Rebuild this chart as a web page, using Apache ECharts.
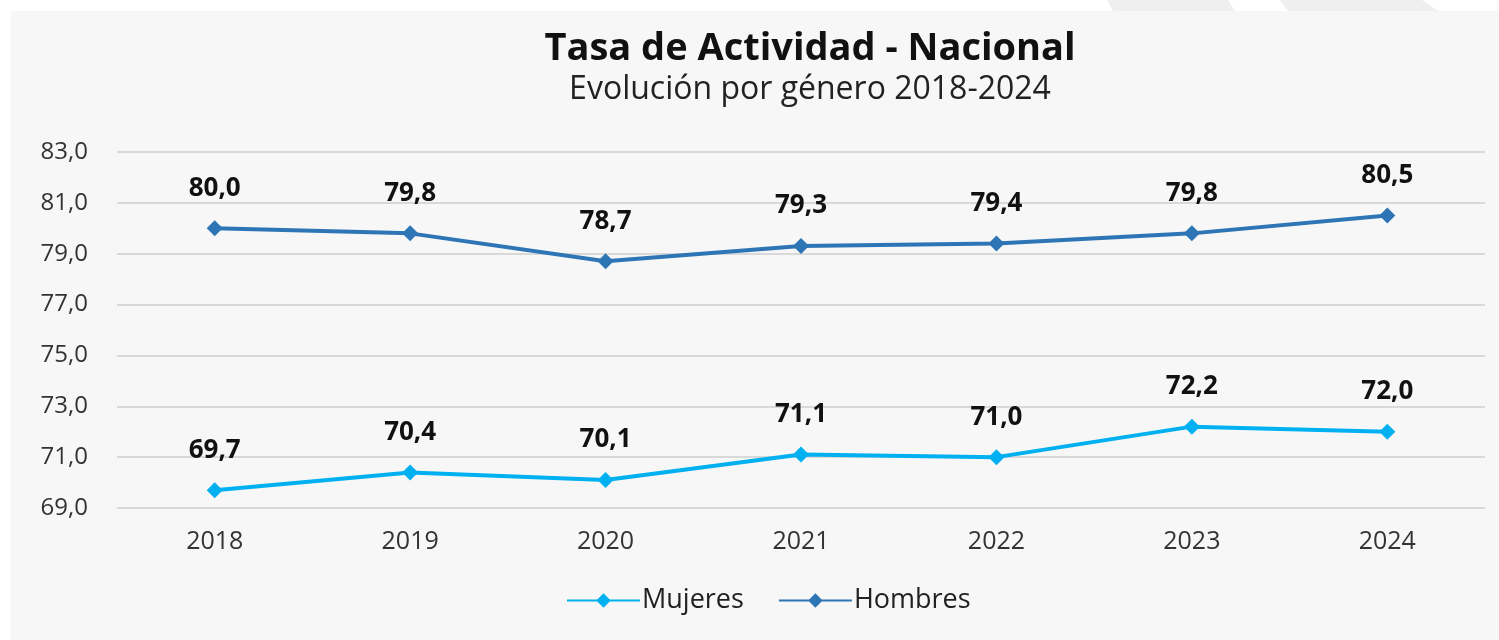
<!DOCTYPE html>
<html>
<head>
<meta charset="utf-8">
<title>Tasa de Actividad - Nacional</title>
<script src="https://cdn.jsdelivr.net/npm/echarts@6/dist/echarts.min.js"></script>
<style>
  html, body { margin: 0; padding: 0; background: #fff; }
  #chart { width: 1499px; height: 640px; }
</style>
</head>
<body>
<div id="chart"></div>
<script>
const years = ['2018', '2019', '2020', '2021', '2022', '2023', '2024']
const mujeres = [69.7, 70.4, 70.1, 71.1, 71.0, 72.2, 72.0]
const hombres = [80.0, 79.8, 78.7, 79.3, 79.4, 79.8, 80.5]

const font = "'Open Sans', 'Noto Sans', sans-serif"
const fmt = v => v.toFixed(1).replace('.', ',')

const chart = echarts.init(document.getElementById('chart'))

const labelStyle = {
  show: true,
  position: 'top',
  distance: 19,
  fontFamily: font,
  fontSize: 26,
  fontWeight: 'bold',
  color: '#111',
  formatter: p => fmt(p.value)
}

chart.setOption({
  backgroundColor: '#ffffff',
  animation: false,
  graphic: [
    // grey stripes above the panel
    { type: 'polygon', z: -20, shape: { points: [[1107, 0], [1228, 0], [1235, 11], [1113, 11]] }, style: { fill: '#efefef' } },
    { type: 'polygon', z: -20, shape: { points: [[1280, 0], [1422, 0], [1438, 11], [1288, 11]] }, style: { fill: '#efefef' } },
    // panel
    { type: 'rect', z: -10, shape: { x: 11, y: 11, width: 1488, height: 629 }, style: { fill: '#f7f7f7' } }
  ],
  title: {
    text: 'Tasa de Actividad - Nacional',
    subtext: 'Evolución por género 2018-2024',
    left: 805,
    textAlign: 'center',
    top: 25,
    itemGap: 6,
    textStyle: {
      fontFamily: font,
      fontSize: 38,
      fontWeight: 'bold',
      color: '#111'
    },
    subtextStyle: {
      fontFamily: font,
      fontSize: 32,
      color: '#222'
    }
  },
  legend: {
    bottom: 21,
    left: 561,
    itemWidth: 73,
    itemHeight: 18,
    itemGap: 34,
    textStyle: {
      fontFamily: font,
      fontSize: 27,
      color: '#222',
      padding: [0, 0, 0, -3]
    },
    data: ['Mujeres', 'Hombres']
  },
  grid: {
    top: 152,
    bottom: 132,
    left: 117,
    right: 14
  },
  xAxis: {
    type: 'category',
    data: years,
    boundaryGap: true,
    axisLine: { show: false },
    axisTick: { show: false },
    axisLabel: {
      margin: 21,
      fontFamily: font,
      fontSize: 25,
      color: '#333'
    }
  },
  yAxis: {
    type: 'value',
    min: 69,
    max: 83,
    interval: 2,
    axisLine: { show: false },
    axisTick: { show: false },
    axisLabel: {
      margin: 29,
      fontFamily: font,
      fontSize: 24,
      color: '#333',
      formatter: v => fmt(v)
    },
    splitLine: {
      lineStyle: { color: '#d9d9d9', width: 2 }
    }
  },
  series: [
    {
      name: 'Mujeres',
      type: 'line',
      data: mujeres,
      symbol: 'diamond',
      symbolSize: 16,
      lineStyle: { color: '#00b0f0', width: 4 },
      itemStyle: { color: '#00b0f0' },
      label: labelStyle
    },
    {
      name: 'Hombres',
      type: 'line',
      data: hombres,
      symbol: 'diamond',
      symbolSize: 16,
      lineStyle: { color: '#2e75b6', width: 4 },
      itemStyle: { color: '#2e75b6' },
      label: labelStyle
    }
  ]
})
</script>
</body>
</html>
